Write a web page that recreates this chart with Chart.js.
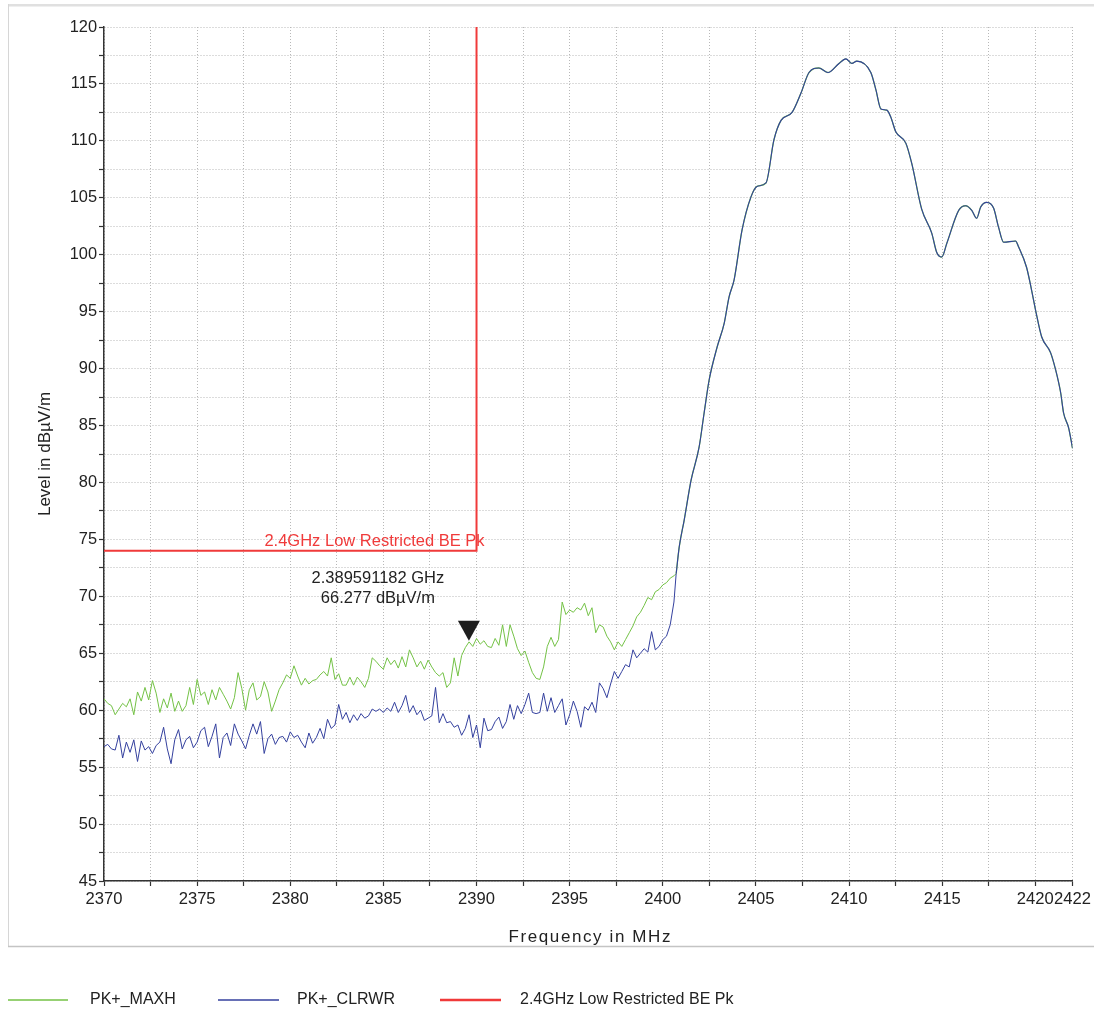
<!DOCTYPE html>
<html>
<head>
<meta charset="utf-8">
<script src="https://cdn.jsdelivr.net/npm/chart.js@4.4.1/dist/chart.umd.min.js"></script>
<style>
  html, body { margin: 0; padding: 0; background: #ffffff; }
  #wrap { width: 1094px; height: 1013px; position: relative; }
</style>
</head>
<body>
<div id="wrap"><canvas id="c" width="1094" height="1013"></canvas></div>
<script>
// ---------------- DATA ----------------
const seriesNames = ["PK+_MAXH", "PK+_CLRWR", "2.4GHz Low Restricted BE Pk"];

// sweep grid of the noisy part (MHz)
const noiseStartMHz = 2370;
const noiseStepMHz = 0.2;

// PK+_MAXH (green) levels, dBµV/m, 2370.0 ... 2400.6 MHz
const maxhNoise = [
  61.0, 60.6, 60.4, 59.6, 60.1, 60.6, 60.3, 61.0, 59.6, 61.6,
  60.8, 62.0, 60.9, 62.6, 61.5, 59.8, 61.0, 60.2, 61.5, 59.9,
  60.8, 59.9, 60.4, 62.0, 60.5, 62.7, 61.3, 61.6, 60.5, 61.8,
  60.9, 62.0, 61.4, 60.8, 60.1, 61.1, 63.3, 61.9, 60.0, 61.8,
  62.4, 60.9, 61.2, 62.5, 61.6, 59.9, 60.8, 61.8, 62.4, 63.1,
  62.8, 63.9, 63.0, 62.2, 62.8, 62.3, 62.6, 62.7, 63.1, 63.4,
  63.0, 64.6, 62.7, 63.2, 62.2, 62.2, 62.9, 62.2, 62.9, 62.5,
  62.0, 62.8, 64.6, 64.3, 63.9, 63.6, 64.6, 64.0, 64.4, 63.7,
  64.7, 63.8, 65.3, 64.6, 63.8, 64.3, 63.6, 64.4, 63.8, 63.3,
  63.0, 63.3, 62.0, 62.4, 64.6, 63.0, 64.8, 65.5, 66.0, 65.6,
  66.3, 65.8, 66.1, 65.6, 65.5, 66.3, 65.7, 67.5, 65.6, 67.5,
  66.5, 65.4, 64.8, 65.2, 64.2, 63.3, 62.8, 62.7, 63.8, 65.6,
  66.4, 65.6, 66.2, 69.5, 68.4, 68.8, 68.6, 69.0, 68.8, 69.4,
  68.3, 69.0, 66.8, 67.5, 67.3, 66.5, 66.0, 65.3, 66.0, 65.6,
  66.2, 66.8, 67.4, 68.2, 68.6, 69.2, 69.9, 69.7, 70.4, 70.6,
  71.0, 71.2, 71.6, 71.8
];

// PK+_CLRWR (blue) levels, dBµV/m, 2370.0 ... 2400.6 MHz
const clrwrNoise = [
  56.8, 57.0, 56.6, 56.5, 57.8, 55.8, 57.2, 56.3, 57.4, 55.5,
  57.3, 56.5, 56.8, 56.2, 56.9, 57.2, 58.5, 56.6, 55.3, 57.4,
  58.3, 56.6, 57.4, 57.7, 56.7, 57.2, 58.2, 58.5, 56.8, 57.7,
  58.8, 55.8, 57.6, 58.0, 56.9, 58.8, 57.9, 57.3, 56.6, 57.8,
  58.8, 57.9, 59.0, 56.2, 57.5, 57.9, 57.0, 57.6, 57.7, 57.2,
  58.1, 57.6, 57.8, 57.2, 56.7, 58.0, 57.1, 57.6, 58.4, 57.5,
  59.2, 58.4, 58.7, 60.5, 59.2, 59.8, 58.9, 59.6, 59.1, 59.7,
  59.3, 59.5, 60.1, 59.9, 60.1, 59.8, 60.2, 59.9, 60.7, 59.8,
  60.4, 61.3, 59.8, 60.4, 59.6, 60.0, 59.1, 59.3, 59.5, 62.0,
  58.9, 59.7, 58.9, 59.0, 58.5, 58.7, 57.8, 58.4, 59.6, 57.6,
  58.7, 56.7, 59.3, 58.2, 58.3, 59.0, 59.4, 58.4, 59.0, 60.5,
  59.2, 60.4, 59.7, 60.5, 61.5, 59.8, 59.7, 59.8, 61.5, 59.9,
  61.1, 59.8, 60.4, 61.0, 58.7, 59.6, 60.8, 59.9, 58.5, 60.3,
  60.0, 60.7, 59.8, 62.4, 61.9, 61.1, 62.3, 63.4, 62.8, 63.4,
  64.0, 63.8, 65.3, 64.6, 65.0, 65.4, 65.1, 66.9, 65.3, 65.6,
  66.2, 66.5, 67.5, 69.5
];

// carrier part, where both traces coincide
const peakFreqs = [
  2400.72, 2400.88, 2401.15, 2401.52, 2401.95, 2402.22, 2402.49, 2402.92, 2403.30, 2403.56,
  2403.83, 2404.26, 2404.74, 2405.06, 2405.54, 2405.97, 2406.35, 2406.94, 2407.42, 2407.85,
  2408.38, 2408.87, 2409.46, 2409.83, 2410.15, 2410.42, 2411.17, 2411.44, 2411.71, 2412.03,
  2412.24, 2412.51, 2413.05, 2413.37, 2413.90, 2414.44, 2414.71, 2414.98, 2415.25, 2415.89,
  2416.26, 2416.59, 2416.85, 2417.07, 2417.39, 2417.76, 2418.03, 2418.30, 2418.94, 2419.10,
  2419.53, 2419.80, 2420.02, 2420.34, 2420.82, 2421.09, 2421.36, 2421.52, 2421.79, 2422.00
];
const peakLevels = [
  72.0, 74.3, 76.7, 80.2, 83.1, 86.1, 89.0, 91.9, 94.0, 96.3,
  97.8, 102.2, 105.1, 106.0, 106.3, 110.1, 111.8, 112.5, 114.2, 116.0,
  116.4, 116.0, 116.8, 117.2, 116.8, 117.0, 116.0, 114.5, 112.8, 112.7,
  112.1, 110.8, 109.8, 108.0, 104.0, 101.9, 100.2, 99.8, 101.0, 103.9,
  104.3, 103.9, 103.2, 104.2, 104.6, 104.1, 102.4, 101.1, 101.2, 100.7,
  98.9, 96.9, 95.1, 92.8, 91.4, 89.9, 87.9, 86.1, 84.8, 83.0
];

// limit line
const limitFreqs = [2370, 2390, 2390];
const limitLevels = [74, 74, 120];

// marker
const markerFreq = 2389.591182;
const markerLevel = 66.277;
const markerLines = ["2.389591182 GHz", "66.277 dBµV/m"];

// axes
const xTickValues = [2370, 2372.5, 2375, 2377.5, 2380, 2382.5, 2385, 2387.5, 2390, 2392.5,
  2395, 2397.5, 2400, 2402.5, 2405, 2407.5, 2410, 2412.5, 2415, 2417.5, 2420, 2422];
const xLabelValues = [2370, 2375, 2380, 2385, 2390, 2395, 2400, 2405, 2410, 2415, 2420, 2422];
const yTickValues = [45, 47.5, 50, 52.5, 55, 57.5, 60, 62.5, 65, 67.5, 70, 72.5, 75, 77.5,
  80, 82.5, 85, 87.5, 90, 92.5, 95, 97.5, 100, 102.5, 105, 107.5, 110, 112.5, 115, 117.5, 120];
const yLabelValues = [45, 50, 55, 60, 65, 70, 75, 80, 85, 90, 95, 100, 105, 110, 115, 120];
const xTitle = "Frequency in MHz";
const yTitle = "Level in dBµV/m";

// ---------------- BUILD ----------------
function noisePoints(levels) {
  return levels.map(function (v, i) {
    return { x: +(noiseStartMHz + i * noiseStepMHz).toFixed(3), y: v };
  });
}
function pairPoints(xs, ys) {
  return xs.map(function (x, i) { return { x: x, y: ys[i] }; });
}
const peakData = pairPoints(peakFreqs, peakLevels);
// noisy part of each trace (joined to the first carrier point), drawn with straight segments
const maxhNoiseData = noisePoints(maxhNoise).concat([peakData[0]]);
const clrwrNoiseData = noisePoints(clrwrNoise).concat([peakData[0]]);
const limitData = pairPoints(limitFreqs, limitLevels);

const FONT = "'Liberation Sans', Arial, Helvetica, sans-serif";
const GREEN = "#74c246";
const BLUE = "#34409e";
const RED = "#f03a3a";

const framePlugin = {
  id: "frame",
  beforeDraw: function (chart) {
    const ctx = chart.ctx;
    ctx.save();
    ctx.fillStyle = "#ffffff";
    ctx.fillRect(0, 0, chart.width, chart.height);
    ctx.strokeStyle = "#e0e0e0";
    ctx.lineWidth = 2.5;
    ctx.beginPath(); ctx.moveTo(8, 5.2); ctx.lineTo(chart.width, 5.2); ctx.stroke();
    ctx.strokeStyle = "#d6d6d6";
    ctx.lineWidth = 1;
    ctx.beginPath(); ctx.moveTo(8.5, 4); ctx.lineTo(8.5, 946); ctx.stroke();
    ctx.strokeStyle = "#c4c4c4";
    ctx.lineWidth = 1.5;
    ctx.beginPath(); ctx.moveTo(8, 946.5); ctx.lineTo(chart.width, 946.5); ctx.stroke();
    ctx.restore();
  }
};

const annotPlugin = {
  id: "annot",
  afterDatasetsDraw: function (chart) {
    const ctx = chart.ctx;
    const xs = chart.scales.x, ys = chart.scales.y;
    ctx.save();
    // limit label
    const lx = xs.getPixelForValue(limitFreqs[1]);
    const ly = ys.getPixelForValue(limitLevels[0]);
    ctx.font = "16.5px " + FONT;
    ctx.fillStyle = RED;
    ctx.textAlign = "right";
    ctx.textBaseline = "middle";
    ctx.fillText(seriesNames[2], lx + 8, ly - 9);
    // marker
    const mx = xs.getPixelForValue(markerFreq);
    const my = ys.getPixelForValue(markerLevel);
    ctx.fillStyle = "#1e1e1e";
    ctx.beginPath();
    ctx.moveTo(mx, my + 2);
    ctx.lineTo(mx - 11, my - 18);
    ctx.lineTo(mx + 11, my - 18);
    ctx.closePath();
    ctx.fill();
    ctx.fillStyle = "#222222";
    ctx.textAlign = "center";
    ctx.font = "16.5px " + FONT;
    ctx.fillText(markerLines[0], mx - 91, my - 60);
    ctx.fillText(markerLines[1], mx - 91, my - 40);
    // x axis title (letter-spaced)
    ctx.font = "17px " + FONT;
    try { ctx.letterSpacing = "1.6px"; } catch (e) {}
    ctx.fillStyle = "#222222";
    ctx.textAlign = "center";
    ctx.fillText(xTitle, (chart.chartArea.left + chart.chartArea.right) / 2 + 2, 937);
    try { ctx.letterSpacing = "0px"; } catch (e) {}
    // legend
    const legendItems = [
      { x1: 8, x2: 68, tx: 90, color: GREEN, w: 1.5, text: seriesNames[0] },
      { x1: 218, x2: 279, tx: 297, color: BLUE, w: 1.5, text: seriesNames[1] },
      { x1: 440, x2: 501, tx: 520, color: RED, w: 2.5, text: seriesNames[2] }
    ];
    const legY = 1000;
    ctx.font = "16px " + FONT;
    ctx.textAlign = "left";
    legendItems.forEach(function (it) {
      ctx.strokeStyle = it.color;
      ctx.lineWidth = it.w;
      ctx.beginPath(); ctx.moveTo(it.x1, legY); ctx.lineTo(it.x2, legY); ctx.stroke();
      ctx.fillStyle = "#222222";
      ctx.fillText(it.text, it.tx, legY);
    });
    ctx.restore();
  }
};

const gridCommon = {
  color: "#b8b8b8",
  lineWidth: 1,
  tickColor: "#333333",
  tickLength: 5,
  tickWidth: 1.2,
  tickBorderDash: []
};
const borderCommon = { display: true, color: "#333333", width: 1.5, dash: [1, 2] };

new Chart(document.getElementById("c"), {
  type: "line",
  data: {
    datasets: [
      { label: seriesNames[0], data: maxhNoiseData, borderColor: GREEN, backgroundColor: GREEN,
        borderWidth: 1, pointRadius: 0, tension: 0, order: 4 },
      { label: seriesNames[0], data: peakData, borderColor: GREEN, backgroundColor: GREEN,
        borderWidth: 1.3, pointRadius: 0, cubicInterpolationMode: "monotone", order: 3 },
      { label: seriesNames[1], data: clrwrNoiseData, borderColor: BLUE, backgroundColor: BLUE,
        borderWidth: 1, pointRadius: 0, tension: 0, order: 2 },
      { label: seriesNames[1], data: peakData, borderColor: BLUE, backgroundColor: BLUE,
        borderWidth: 1.1, pointRadius: 0, cubicInterpolationMode: "monotone", order: 1 },
      { label: seriesNames[2], data: limitData, borderColor: RED, backgroundColor: RED,
        borderWidth: 2, pointRadius: 0, tension: 0, order: 0 }
    ]
  },
  options: {
    responsive: false,
    animation: false,
    devicePixelRatio: 1,
    layout: { padding: { top: 27, right: 2, bottom: 58, left: 0 } },
    plugins: { legend: { display: false }, tooltip: { enabled: false } },
    scales: {
      x: {
        type: "linear",
        min: 2370, max: 2422,
        afterBuildTicks: function (s) { s.ticks = xTickValues.map(function (v) { return { value: v }; }); },
        afterFit: function (s) { s.height = 74; },
        ticks: {
          autoSkip: false, maxRotation: 0, minRotation: 0, padding: 3,
          color: "#222222", font: { family: FONT, size: 16.6 },
          callback: function (v) { return xLabelValues.indexOf(v) >= 0 ? String(v) : ""; }
        },
        grid: gridCommon,
        border: borderCommon,
        title: { display: false }
      },
      y: {
        type: "linear",
        min: 45, max: 120,
        afterBuildTicks: function (s) { s.ticks = yTickValues.map(function (v) { return { value: v }; }); },
        afterFit: function (s) { s.width = 104; },
        ticks: {
          autoSkip: false, padding: 2,
          color: "#222222", font: { family: FONT, size: 16.4 },
          callback: function (v) { return yLabelValues.indexOf(v) >= 0 ? String(v) : ""; }
        },
        grid: gridCommon,
        border: borderCommon,
        title: {
          display: true, text: yTitle, color: "#222222",
          font: { family: FONT, size: 17 }, padding: { top: 35, bottom: 0 }
        }
      }
    }
  },
  plugins: [framePlugin, annotPlugin]
});
</script>
</body>
</html>
